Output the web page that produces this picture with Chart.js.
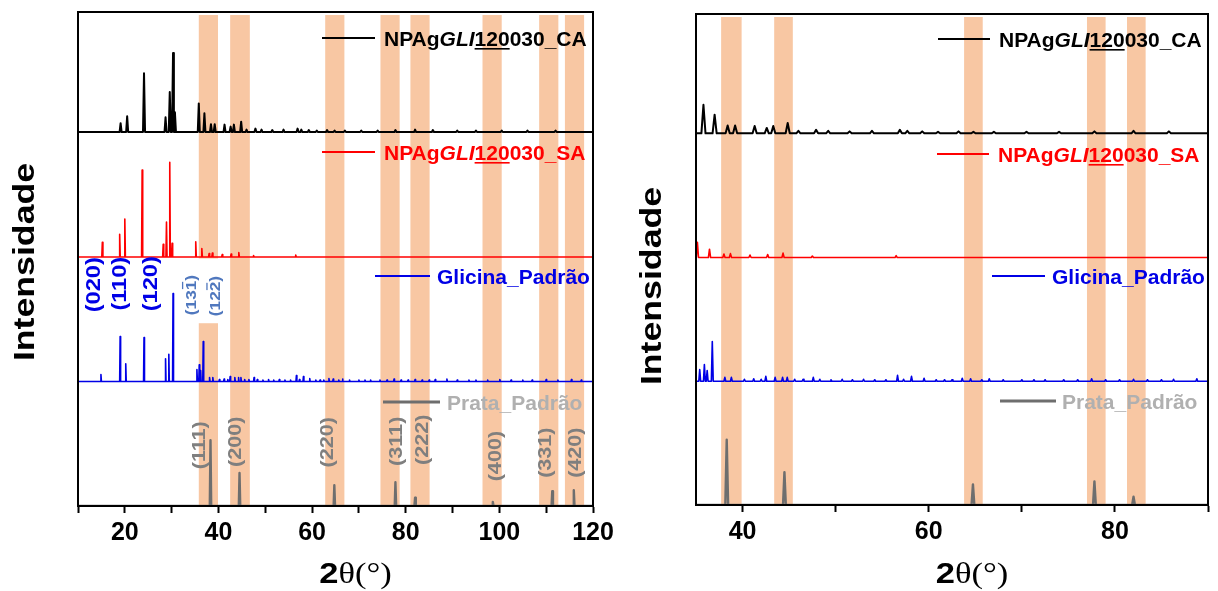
<!DOCTYPE html>
<html>
<head>
<meta charset="utf-8">
<title>DRX - NPAg</title>
<script src="https://cdn.jsdelivr.net/npm/chart.js@4.4.1/dist/chart.umd.min.js"></script>
<style>
  html, body { margin: 0; padding: 0; background: #fff; }
  #wrap { position: relative; width: 1218px; height: 591px; overflow: hidden; }
  .panel { position: absolute; top: 0; }
  #left { left: 0; }
  #right { left: 620px; }
</style>
</head>
<body>
<div id="wrap">
  <div class="panel" id="left"><canvas id="xrdFull" width="620" height="591"></canvas></div>
  <div class="panel" id="right"><canvas id="xrdZoom" width="598" height="591"></canvas></div>
</div>
<script>
// --- data (2θ in degrees, intensity in a.u.) ---
const seriesNames = ['NPAgGLI120030_CA', 'NPAgGLI120030_SA', 'Glicina_Padrão', 'Prata_Padrão'];
const seriesColors = ['#000000', '#ff0000', '#0000e6', '#6e6e6e'];
const seriesOffsets = [75.7, 50.4, 25.2, 0];

const caPeakPos = [19.1, 20.5, 24.1, 28.7, 29.6, 30.3, 30.7, 35.8, 37.0, 38.4, 39.2, 41.3, 42.6, 43.3, 44.85,
  46.0, 47.9, 49.2, 51.5, 53.9, 56.9, 57.7, 59.3, 61.0, 63.2, 64.8, 67.0, 70.5, 74.0, 77.8, 82.0, 85.8,
  91.0, 95.0, 100.5, 106.0, 112.0];
const caPeakHeight = [1.8, 3.2, 11.9, 3.0, 8.1, 16.0, 4.0, 5.8, 3.8, 1.6, 1.6, 1.5, 1.1, 1.5, 2.1,
  0.5, 0.7, 0.5, 0.4, 0.5, 0.7, 0.5, 0.4, 0.3, 0.4, 0.3, 0.3, 0.3, 0.3, 0.4, 0.5, 0.4,
  0.3, 0.3, 0.3, 0.3, 0.3];

const saPeakPos = [15.2, 18.9, 20.0, 23.7, 28.2, 28.9, 29.6, 30.1, 35.15, 36.45, 38.0, 38.7, 40.8, 42.7, 44.35, 47.5, 56.5];
const saPeakHeight = [3.0, 4.6, 7.7, 17.6, 2.6, 7.1, 19.2, 2.8, 3.1, 1.7, 0.7, 0.8, 0.5, 0.6, 0.9, 0.3, 0.4];

const glyPeakPos = [14.9, 19.0, 20.2, 24.1, 28.7, 29.4, 30.3, 35.4, 35.9, 36.2, 36.75,
  38.1, 38.8, 40.2, 41.2, 42.0, 42.5, 43.5, 44.3, 44.8, 45.6, 46.5, 47.6, 48.3, 49.5, 50.7, 51.8,
  53.0, 54.2, 55.4, 56.65, 57.3, 58.15, 59.5, 60.8, 61.7, 62.5, 63.6, 64.5, 65.7, 66.5, 68.0, 70.0,
  71.3, 72.5, 74.5, 76.0, 77.5, 79.0, 80.5, 82.0, 83.5, 85.0, 86.3, 88.8, 91.0, 93.5, 95.0, 97.5,
  100.1, 102.5, 105.0, 107.0, 110.0, 112.5, 115.4, 117.5];
const glyPeakHeight = [1.4, 9.1, 3.6, 8.9, 4.6, 5.5, 17.8, 2.4, 3.4, 2.2, 8.1,
  0.8, 0.8, 0.4, 0.5, 0.4, 1.0, 0.8, 0.8, 0.8, 0.4, 0.4, 0.8, 0.4, 0.3, 0.4, 0.3,
  0.4, 0.3, 0.3, 1.2, 0.4, 1.0, 0.6, 0.3, 0.3, 0.3, 0.6, 0.5, 0.3, 0.5, 0.3, 0.3,
  0.3, 0.3, 0.3, 0.3, 0.5, 0.3, 0.3, 0.4, 0.3, 0.3, 0.4, 0.5, 0.3, 0.3, 0.3, 0.3,
  0.4, 0.3, 0.3, 0.3, 0.4, 0.3, 0.4, 0.3];

const agPeakPos = [38.3, 44.5, 64.75, 77.8, 82.0, 98.6, 111.3, 115.9];
const agPeakHeight = [13.3, 6.7, 4.2, 4.8, 1.7, 0.8, 3.0, 3.2];

const xRangeFull = [10, 120];
const xTicksFull = [10, 20, 30, 40, 50, 60, 70, 80, 90, 100, 110, 120];
const tickLabelsFull = ['', '20', '', '40', '', '60', '', '80', '', '100', '', '120'];
const xRangeZoom = [35, 90];
const xTicksZoom = [40, 50, 60, 70, 80, 90];
const tickLabelsZoom = ['40', '', '60', '', '80', ''];

// highlighted 2θ windows (orange bands)
const bandsFull = [[35.8, 39.9], [42.5, 46.7], [62.8, 66.9], [74.6, 78.7], [81.0, 85.1], [96.4, 100.5], [108.5, 112.6], [114.0, 118.1]];
const bandsZoom = [[37.7, 39.9], [43.4, 45.4], [63.8, 65.8], [77.0, 79.0], [81.3, 83.3]];

// Miller indices
const agHkl = ['(111)', '(200)', '(220)', '(311)', '(222)', '(400)', '(331)', '(420)'];
const glyHkl = ['(020)', '(110)', '(120)', '(131)', '(122)'];

// --- annotation placement (data coords) ---
const agHklAt = [[35.7, 12.3], [43.5, 13.0], [63.1, 12.9], [77.8, 13.1], [83.3, 13.4], [98.9, 10.1], [109.6, 10.8], [116.0, 10.8]];
const glyHklAt = [[13.1, 44.8], [18.7, 45.0], [25.3, 45.0], [34.0, 42.7], [39.2, 42.5]];
const glyHklBar = [-1, -1, -1, 3, 3];          // index of the barred digit
const bandGapFull = [35.6, 40.1, 37.0, 50.1];    // white box behind (131)/(122)

const FONT = '"Liberation Sans", Arial, sans-serif';
const SERIF = '"Liberation Serif", "Times New Roman", serif';

const legendSegments = [
  [{ text: 'NPAg' }, { text: 'GLI', italic: true }, { text: '120', underline: true }, { text: '030_CA' }],
  [{ text: 'NPAg' }, { text: 'GLI', italic: true }, { text: '120', underline: true }, { text: '030_SA' }],
  [{ text: 'Glicina_Padrão' }],
  [{ text: 'Prata_Padrão' }]
];
const legendTextColors = ['#000000', '#ff0000', '#0000e6', '#b0b0b0'];

function buildTrace(pos, height, offset, halfWidth) {
  const pts = [{ x: xRangeFull[0], y: offset }];
  pos.forEach((p, i) => {
    pts.push({ x: p - halfWidth, y: offset }, { x: p, y: offset + height[i] }, { x: p + halfWidth, y: offset });
  });
  pts.push({ x: xRangeFull[1], y: offset });
  return pts.sort((a, b) => a.x - b.x);
}

const traces = [
  buildTrace(caPeakPos, caPeakHeight, seriesOffsets[0], 0.22),
  buildTrace(saPeakPos, saPeakHeight, seriesOffsets[1], 0.12),
  buildTrace(glyPeakPos, glyPeakHeight, seriesOffsets[2], 0.1),
  buildTrace(agPeakPos, agPeakHeight, seriesOffsets[3], 0.15)
];
const lineWidths = [2, 1.6, 1.6, 2.4];

function drawRotated(ctx, text, cx, cy, size, color, stretch, barIndex) {
  ctx.save();
  ctx.translate(cx, cy);
  ctx.rotate(-Math.PI / 2);
  ctx.scale(stretch, 1);
  ctx.font = 'bold ' + size + 'px ' + FONT;
  ctx.fillStyle = color;
  ctx.textAlign = 'left';
  ctx.textBaseline = 'alphabetic';
  const w = ctx.measureText(text).width;
  const base = size * 0.36;
  ctx.fillText(text, -w / 2, base);
  if (barIndex >= 0) {
    const bx = -w / 2 + ctx.measureText(text.slice(0, barIndex)).width;
    const bw = ctx.measureText(text[barIndex]).width;
    ctx.fillRect(bx + 1, base - size * 0.72 - 3, bw - 2, 1.3);
  }
  ctx.restore();
}

function drawRich(ctx, segments, x, y, size, color) {
  let cx = x;
  ctx.textAlign = 'left';
  ctx.textBaseline = 'alphabetic';
  ctx.fillStyle = color;
  segments.forEach(seg => {
    ctx.font = (seg.italic ? 'italic ' : '') + 'bold ' + size + 'px ' + FONT;
    ctx.fillText(seg.text, cx, y);
    const w = ctx.measureText(seg.text).width;
    if (seg.underline) ctx.fillRect(cx, y + 2.5, w, 1.6);
    cx += w;
  });
}

const decorPlugin = {
  id: 'xrdDecor',
  beforeDatasetsDraw(chart, args, opts) {
    const { ctx, chartArea: a, scales: { x, y } } = chart;
    ctx.save();
    ctx.beginPath();
    ctx.rect(a.left, a.top, a.right - a.left, a.bottom - a.top);
    ctx.clip();
    ctx.fillStyle = 'rgb(248,199,163)';
    opts.bands.forEach(([b0, b1]) => {
      const x0 = x.getPixelForValue(b0), x1 = x.getPixelForValue(b1);
      ctx.fillRect(x0, a.top + 3, x1 - x0, a.bottom - a.top - 3);
    });
    if (opts.gap) {
      const [g0, g1, gy0, gy1] = opts.gap;
      const px0 = x.getPixelForValue(g0), px1 = x.getPixelForValue(g1);
      const py0 = y.getPixelForValue(gy1), py1 = y.getPixelForValue(gy0);
      ctx.fillStyle = '#ffffff';
      ctx.fillRect(px0, py0, px1 - px0, py1 - py0);
    }
    ctx.restore();
  },
  afterDraw(chart, args, opts) {
    const { ctx, chartArea: a, scales: { x, y } } = chart;
    ctx.save();
    // frame
    ctx.strokeStyle = '#000';
    ctx.lineWidth = 2;
    ctx.strokeRect(a.left, a.top, a.right - a.left, a.bottom - a.top);

    // legend rows
    opts.legendRows.forEach((row, i) => {
      ctx.strokeStyle = seriesColors[i];
      ctx.lineWidth = i === 3 ? 3 : 2;
      ctx.beginPath();
      ctx.moveTo(row.lineX[0], row.y);
      ctx.lineTo(row.lineX[1], row.y);
      ctx.stroke();
      drawRich(ctx, legendSegments[i], row.textX, row.y + 7.5, 21, legendTextColors[i]);
    });

    // Miller indices
    if (opts.hkl) {
      agHkl.forEach((t, i) => {
        drawRotated(ctx, t, x.getPixelForValue(agHklAt[i][0]), y.getPixelForValue(agHklAt[i][1]), 18, '#7f7f7f', 1.2, -1);
      });
      glyHkl.forEach((t, i) => {
        const small = glyHklBar[i] >= 0;
        drawRotated(ctx, t, x.getPixelForValue(glyHklAt[i][0]), y.getPixelForValue(glyHklAt[i][1]),
          small ? 15 : 20, small ? '#5078be' : '#0000e6', small ? 1.15 : 1.18, glyHklBar[i]);
      });
    }

    // y title
    drawRotated(ctx, 'Intensidade', opts.yTitle.x, opts.yTitle.y, 29, '#000', 1.23, -1);

    // x title: bold "2" + serif "θ(°)"
    const cx = (a.left + a.right) / 2 + 20;
    const by = 583;
    ctx.textAlign = 'left';
    ctx.textBaseline = 'alphabetic';
    ctx.fillStyle = '#000';
    ctx.font = 'bold 30px ' + FONT;
    const w1 = ctx.measureText('2').width;
    ctx.font = '30px ' + SERIF;
    const w2 = ctx.measureText('θ(°)').width;
    const sx = 1.15;
    const start = cx - (w1 + w2) * sx / 2;
    ctx.translate(start, by);
    ctx.scale(sx, 1);
    ctx.font = 'bold 30px ' + FONT;
    ctx.fillText('2', 0, 0);
    ctx.font = '30px ' + SERIF;
    ctx.fillText('θ(°)', w1, 0);
    ctx.restore();
  }
};

function makePanel(cfg) {
  const ctx = document.getElementById(cfg.canvas).getContext('2d');
  return new Chart(ctx, {
    type: 'line',
    data: {
      datasets: traces.map((pts, i) => ({
        label: seriesNames[i],
        data: pts,
        borderColor: seriesColors[i],
        borderWidth: lineWidths[i],
        borderJoinStyle: 'round',
        pointRadius: 0,
        tension: 0,
        fill: false
      }))
    },
    options: {
      responsive: false,
      animation: false,
      devicePixelRatio: 1,
      layout: { padding: cfg.padding },
      plugins: {
        legend: { display: false },
        tooltip: { enabled: false },
        xrdDecor: cfg.decor
      },
      scales: {
        x: {
          type: 'linear',
          min: cfg.range[0],
          max: cfg.range[1],
          afterBuildTicks: (scale) => { scale.ticks = cfg.ticks.map(v => ({ value: v })); },
          afterFit: (scale) => { scale.height = cfg.axisHeight; },
          ticks: {
            autoSkip: false,
            maxRotation: 0,
            padding: 5,
            color: '#000',
            font: { family: FONT, size: 25, weight: 'bold' },
            callback: (v, idx) => cfg.tickLabels[idx]
          },
          grid: { display: true, drawOnChartArea: false, drawTicks: true, tickLength: 7, tickWidth: 2, tickColor: '#000' },
          border: { display: true, color: '#000', width: 2 }
        },
        y: { type: 'linear', display: false, min: 0, max: 100 }
      }
    },
    plugins: [decorPlugin]
  });
}

makePanel({
  canvas: 'xrdFull',
  range: xRangeFull,
  ticks: xTicksFull,
  tickLabels: tickLabelsFull,
  padding: { left: 78, right: 27, top: 12, bottom: 0 },
  axisHeight: 85,
  decor: {
    bands: bandsFull,
    gap: bandGapFull,
    hkl: true,
    yTitle: { x: 24, y: 262 },
    legendRows: [
      { lineX: [322, 375], y: 38, textX: 384 },
      { lineX: [322, 375], y: 152, textX: 384 },
      { lineX: [375, 430], y: 276, textX: 437 },
      { lineX: [383, 440], y: 402, textX: 447 }
    ]
  }
});

makePanel({
  canvas: 'xrdZoom',
  range: xRangeZoom,
  ticks: xTicksZoom,
  tickLabels: tickLabelsZoom,
  padding: { left: 76, right: 10, top: 14, bottom: 0 },
  axisHeight: 86,
  decor: {
    bands: bandsZoom,
    gap: null,
    hkl: false,
    yTitle: { x: 31, y: 286 },
    legendRows: [
      { lineX: [318, 370], y: 39, textX: 379 },
      { lineX: [317, 369], y: 154, textX: 378 },
      { lineX: [372, 425], y: 276, textX: 432 },
      { lineX: [380, 436], y: 401, textX: 442 }
    ]
  }
});
</script>
</body>
</html>
